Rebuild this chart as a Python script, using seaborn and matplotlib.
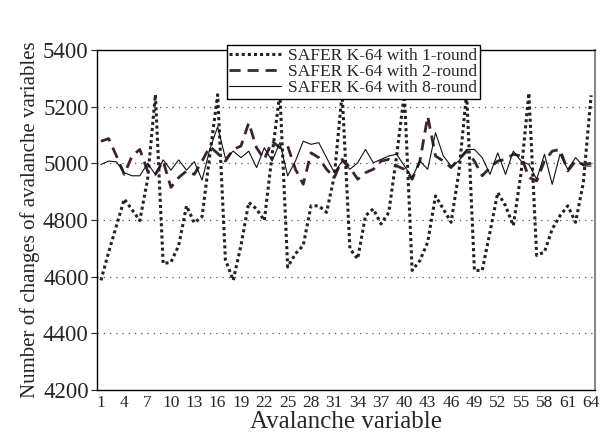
import numpy as np
import pandas as pd
import matplotlib
matplotlib.use('Agg')
import matplotlib.pyplot as plt
import seaborn as sns

# avalanche variable index 1..64
variables = list(range(1, 65))

round1 = [4587, 4687, 4780, 4874, 4836, 4798, 4944, 5242,
          4646, 4651, 4710, 4850, 4790, 4812, 5030, 5242,
          4660, 4587, 4710, 4862, 4839, 4798, 5030, 5248,
          4634, 4681, 4710, 4850, 4850, 4827, 4956, 5248,
          4698, 4663, 4815, 4839, 4786, 4827, 5026, 5248,
          4622, 4657, 4722, 4885, 4839, 4792, 4967, 5248,
          4622, 4622, 4757, 4897, 4850, 4780, 4967, 5248,
          4675, 4687, 4768, 4815, 4850, 4792, 4932, 5240]

round2 = [5078, 5087, 5026, 4961, 5026, 5049, 4973, 4961,
          5008, 4915, 4950, 4973, 4961, 5008, 5059, 5035,
          5008, 5049, 5061, 5143, 5055, 5014, 5078, 5055,
          5061, 4979, 4926, 5037, 5020, 4979, 4950, 5014,
          4985, 4944, 4967, 4979, 5008, 5014, 4991, 4979,
          4944, 5008, 5166, 5026, 5008, 4985, 5014, 5043,
          5008, 4956, 4985, 5008, 5014, 5032, 5026, 4950,
          4938, 5008, 5043, 5049, 4973, 5008, 4996, 5000]

round8 = [4996, 5008, 5005, 4967, 4956, 4956, 5000, 4960,
          5012, 4976, 5012, 4976, 5006, 4941, 5050, 5129,
          5018, 5043, 5020, 5043, 4985, 5055, 5008, 5073,
          4956, 5008, 5078, 5067, 5073, 5020, 4967, 5008,
          4979, 5002, 5049, 5002, 5014, 5026, 5032, 4991,
          4950, 5008, 4979, 5108, 5026, 4991, 5008, 5049,
          5049, 5020, 4961, 5037, 4961, 5043, 5008, 4996,
          4944, 5032, 4926, 5032, 4979, 5020, 4991, 4990]

labels = ['SAFER K-64 with 1-round', 'SAFER K-64 with 2-round', 'SAFER K-64 with 8-round']

data = pd.DataFrame({'variable': variables, 'r1': round1, 'r2': round2, 'r8': round8})

sns.set_style('white')
plt.rcParams['font.family'] = ['Liberation Serif', 'DejaVu Serif']

fig = plt.figure(figsize=(6.0, 4.34), dpi=100)
ax = fig.add_axes([0.1617, 0.1014, 0.83, 0.7834])

# horizontal dotted grid
for yv in range(4400, 5400, 200):
    ax.axhline(yv, color='#555555', lw=0.9, ls=(0, (1, 4)), zorder=0)

sns.lineplot(data=data, x='variable', y='r1', ax=ax, color='#222222', lw=2.2,
             ls=(0, (1, 1)), label=labels[0])
sns.lineplot(data=data, x='variable', y='r2', ax=ax, color='#3c2236', lw=2.0,
             ls=(0, (4, 2.5)), label=labels[1])
sns.lineplot(data=data, x='variable', y='r8', ax=ax, color='#111111', lw=0.8,
             ls='-', label=labels[2])

ax.set_xlim(0.5, 64.5)
ax.set_ylim(4200, 5400)
ax.set_yticks(range(4200, 5401, 200))
ax.set_xticks(variables)
ax.set_xticklabels([str(v) if (v - 1) % 3 == 0 else '' for v in variables])
ax.tick_params(axis='x', direction='inout', length=5, width=0.8, labelsize=12.5, pad=1)
ax.tick_params(axis='y', direction='out', length=4, width=0.8, labelsize=16.5, pad=2, left=True)

ax.set_xlabel('Avalanche variable', fontsize=18, labelpad=0)
ax.set_ylabel('Number of changes of avalanche variables', fontsize=15, labelpad=2)

for s in ['left', 'bottom', 'top']:
    ax.spines[s].set_color('black')
    ax.spines[s].set_linewidth(1.0)
ax.spines['right'].set_color('#888888')
ax.spines['right'].set_linewidth(1.5)

leg = ax.legend(loc='upper center', bbox_to_anchor=(0.515, 1.015), fontsize=12.5,
                frameon=True, fancybox=False, framealpha=1, edgecolor='black',
                labelspacing=0.0, handlelength=3.0, handletextpad=0.4,
                borderpad=0.15, borderaxespad=0)
leg.get_frame().set_linewidth(1.0)

fig.savefig('out.png', dpi=100)
